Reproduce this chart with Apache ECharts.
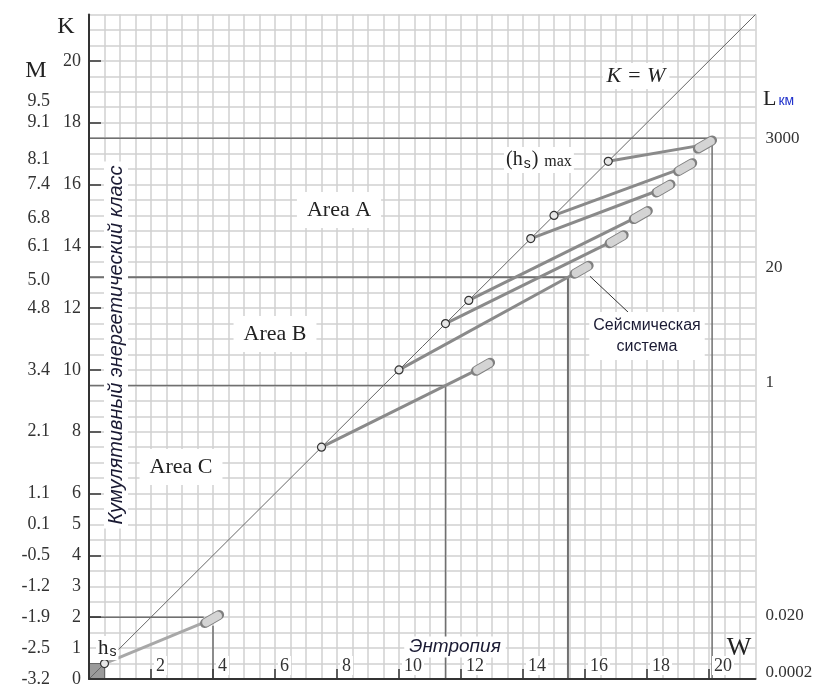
<!DOCTYPE html>
<html><head><meta charset="utf-8">
<script src="https://cdn.jsdelivr.net/npm/echarts@6/dist/echarts.min.js"></script>
<style>html,body{margin:0;padding:0;background:#fff}#c{width:818px;height:688px}</style>
</head><body><div id="c"></div>
<script>
// ---- tick labels ----
const kLabelValues = [0,1,2,3,4,5,6,8,10,12,14,16,18,20];
const kTickValues = [2,4,6,8,10,12,14,16,18,20];
const wLabelValues = [2,4,6,8,10,12,14,16,18,20];
const mLabelValues = [0,1,2,3,4,5,6,8,10,12,12.9,14,14.9,16,16.8,18,18.7];
const mLabels = ['-3.2','-2.5','-1.9','-1.2','-0.5','0.1','1.1','2.1','3.4','4.8','5.0','6.1','6.8','7.4','8.1','9.1','9.5'];
const lLabelValues = [0.2,2.05,9.6,13.3,17.5];
const lLabels = ['0.0002','0.020','1','20','3000'];

// ---- data ----
const diagonal = [[0,0],[21.5,21.5]];
const circleW = [0.5,7.5,10,11.5,12.25,14.25,15,16.75];          // points on K = W
const ellipseW = [3.97,12.71,15.89,17.02,17.8,18.53,19.23,19.87];
const ellipseK = [1.94,10.1,13.24,14.23,15.01,15.87,16.56,17.29];
const refLines = [
  [[0,2],[3.7,2]],
  [[4.0,1.72],[4.0,0]],
  [[0,9.5],[11.5,9.5],[11.5,0]],
  [[0,13],[15.45,13],[15.45,0]],
  [[0,17.5],[20.1,17.5],[20.1,0]]
];
const refWidths = [1.5,1.5,1.5,2,1.5];
const pointerLine = [[16.16,13.03],[17.39,11.87]];
const originBox = [[0,0],[0.5,0.5]];

function lookup(vals, labels, v){
  let best=0, d=1e9;
  vals.forEach((x,i)=>{ if(Math.abs(x-v)<d){d=Math.abs(x-v);best=i;} });
  return labels[best];
}

const SERIF = "'Liberation Serif','Times New Roman',serif";
const SANS = "'Liberation Sans',Arial,sans-serif";

const series = [];
refLines.forEach((pl,i)=>{
  series.push({type:'line', data:pl, symbol:'none', silent:true, z:3,
    lineStyle:{color:'#707070', width:refWidths[i]}});
});
circleW.forEach((w,i)=>{
  series.push({type:'line', data:[[w,w],[ellipseW[i],ellipseK[i]]], symbol:'none', silent:true, z:4,
    lineStyle:{color: i===0 ? '#a8a8a8' : '#8a8a8a', width:3}});
});
series.push({type:'line', data:diagonal, symbol:'none', silent:true, z:5,
  lineStyle:{color:'#666', width:1},
  markArea:{silent:true, itemStyle:{color:'#9a9a9a', borderColor:'#666', borderWidth:1},
    data:[[{coord:originBox[0]},{coord:originBox[1]}]]}});
series.push({type:'line', data:pointerLine, symbol:'none', silent:true, z:5,
  lineStyle:{color:'#333', width:1}});
series.push({type:'scatter', z:6, silent:true,
  data: ellipseW.map((w,i)=>[w,ellipseK[i]]),
  symbol:'path://M4.5,0 L19.5,0 C22,0 24,2 24,4.5 C24,7 22,9 19.5,9 L4.5,9 C2,9 0,7 0,4.5 C0,2 2,0 4.5,0 Z',
  symbolSize:[24,9], symbolRotate:30,
  itemStyle:{color:'#d4d4d4', borderColor:'#808080', borderWidth:1.5, opacity:1}});
series.push({type:'scatter', z:7, silent:true,
  data: circleW.map(w=>[w,w]),
  symbol:'circle', symbolSize:8,
  itemStyle:{color:'#e6e6e6', borderColor:'#333', borderWidth:1.2, opacity:1}});

const gridAxisX = {type:'value', min:0, max:21.5, interval:0.5, position:'bottom',
  axisLine:{show:false}, axisTick:{show:false}, axisLabel:{show:false},
  splitLine:{show:true, lineStyle:{color:'#d0d0d0', width:1.5}}};
const gridAxisY = {type:'value', min:0, max:21.5, interval:0.5, position:'left',
  axisLine:{show:false}, axisTick:{show:false}, axisLabel:{show:false},
  splitLine:{show:true, lineStyle:{color:'#d0d0d0', width:1.5}}};

const option = {
  animation:false,
  backgroundColor:'#fff',
  grid:{left:89, top:14.5, width:666.5, height:666.5, containLabel:false},
  xAxis:[{type:'value', min:0, max:21.5, interval:0.5, z:10,
    axisLine:{show:true, onZero:false, lineStyle:{color:'#333', width:2}},
    axisTick:{show:true, inside:true, length:10, customValues:wLabelValues, lineStyle:{color:'#333', width:1.5}},
    axisLabel:{show:true, inside:true, margin:4, customValues:wLabelValues, align:'left', padding:[0,0,0,3],
      formatter:v=>'{a|'+v+'}',
      rich:{a:{fontFamily:SERIF, fontSize:18, color:'#333', backgroundColor:'#fff', padding:[1,2,0,2]}}},
    splitLine:{show:false}
  }, gridAxisX],
  yAxis:[
    {type:'value', min:0, max:21.5, interval:0.5, z:10,
      axisLine:{show:true, onZero:false, lineStyle:{color:'#333', width:2}},
      axisTick:{show:true, inside:true, length:12, customValues:kTickValues, lineStyle:{color:'#333', width:1.5}},
      axisLabel:{show:true, margin:8, customValues:kLabelValues, fontFamily:SERIF, fontSize:18, color:'#333'},
      splitLine:{show:false}},
    {type:'value', min:0, max:21.5, position:'left', offset:39,
      axisLine:{show:false}, axisTick:{show:false}, splitLine:{show:false},
      axisLabel:{show:true, margin:0, customValues:mLabelValues, fontFamily:SERIF, fontSize:18, color:'#333',
        formatter:v=>lookup(mLabelValues,mLabels,v)}},
    {type:'value', min:0, max:21.5, position:'right', offset:0,
      axisLine:{show:false}, axisTick:{show:false}, splitLine:{show:false},
      axisLabel:{show:true, margin:10, customValues:lLabelValues, fontFamily:SERIF, fontSize:17, color:'#333', align:'left',
        formatter:v=>lookup(lLabelValues,lLabels,v)}},
    gridAxisY
  ],
  series: series,
  graphic:[
    {type:'text', x:66, y:27, z:100, style:{text:'K', font:'24px '+SERIF, fill:'#222', align:'center', verticalAlign:'middle'}},
    {type:'text', x:36, y:71, z:100, style:{text:'M', font:'24px '+SERIF, fill:'#222', align:'center', verticalAlign:'middle'}},
    {type:'text', x:763, y:99, z:100, style:{text:'{l|L}{u|км}', verticalAlign:'middle', align:'left',
      rich:{l:{font:'22px '+SERIF, fill:'#222'}, u:{font:'14px '+SANS, fill:'#2233cc', padding:[4,0,0,2]}}}},
    {type:'text', x:739, y:648, z:100, style:{text:'W', font:'26px '+SERIF, fill:'#222', align:'center', verticalAlign:'middle'}},
    {type:'text', x:636, y:76, z:100, style:{text:'K = W', font:'italic 22px '+SERIF, fill:'#222', align:'center', verticalAlign:'middle', backgroundColor:'#fff', padding:[2,4]}},
    {type:'text', x:339, y:210, z:100, style:{text:'Area A', font:'22px '+SERIF, fill:'#222', align:'center', verticalAlign:'middle', backgroundColor:'#fff', padding:[7,10]}},
    {type:'text', x:275, y:334, z:100, style:{text:'Area B', font:'22px '+SERIF, fill:'#222', align:'center', verticalAlign:'middle', backgroundColor:'#fff', padding:[7,10]}},
    {type:'text', x:181, y:467, z:100, style:{text:'Area C', font:'22px '+SERIF, fill:'#222', align:'center', verticalAlign:'middle', backgroundColor:'#fff', padding:[7,10]}},
    {type:'text', x:455, y:647, z:100, style:{text:'Энтропия', font:'italic 19px '+SANS, fill:'#1a1a33', align:'center', verticalAlign:'middle', backgroundColor:'#fff', padding:[1,5]}},
    {type:'text', x:116, y:345, z:100, rotation:Math.PI/2, style:{text:'Кумулятивный энергетический класс', font:'italic 20px '+SANS, fill:'#1a1a33', align:'center', verticalAlign:'middle', backgroundColor:'#fff', padding:[2,4]}},
    {type:'text', x:647, y:336, z:100, style:{text:'Сейсмическая\nсистема', font:'16px '+SANS, lineHeight:21, fill:'#1a1a33', align:'center', verticalAlign:'middle', backgroundColor:'#fff', padding:[3,4]}},
    {type:'text', x:504, y:160, z:100, style:{text:'{p|(h}{s|s}{p|)}{m| max}', align:'left', verticalAlign:'middle', backgroundColor:'#fff', padding:[2,2],
      rich:{p:{font:'20px '+SERIF, fill:'#222'}, s:{font:'14px '+SANS, fill:'#222', padding:[8,1,0,1]}, m:{font:'16px '+SERIF, fill:'#222', padding:[4,0,0,2]}}}},
    {type:'text', x:96, y:648, z:100, style:{text:'{p|h}{s|s}', align:'left', verticalAlign:'middle', backgroundColor:'#fff', padding:[1,2],
      rich:{p:{font:'21px '+SERIF, fill:'#222'}, s:{font:'14px '+SANS, fill:'#222', padding:[8,0,0,1]}}}}
  ]
};
const chart = echarts.init(document.getElementById('c'), null, {renderer:'canvas'});
chart.setOption(option);
</script></body></html>
